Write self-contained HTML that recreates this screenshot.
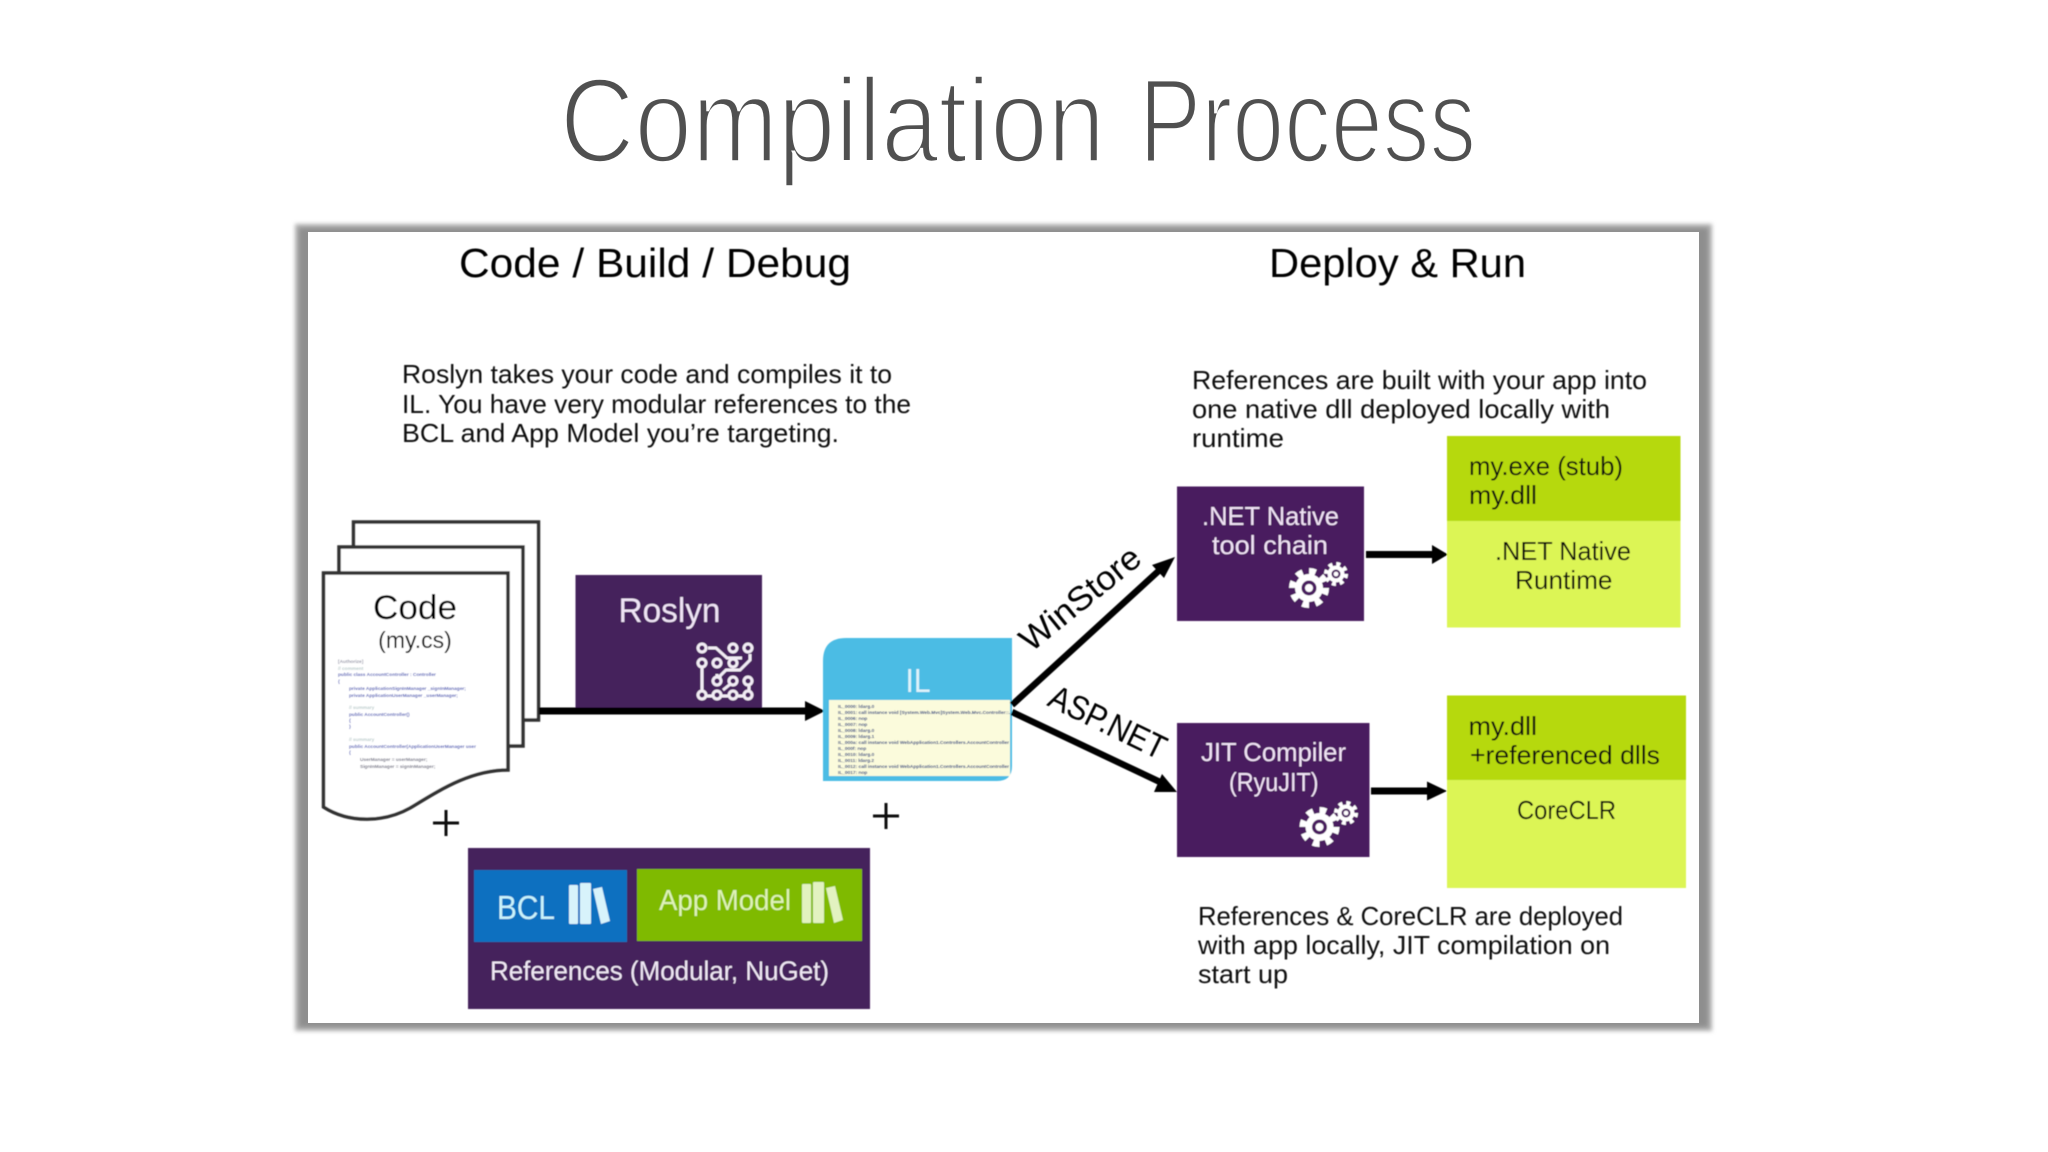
<!DOCTYPE html>
<html><head><meta charset="utf-8"><style>
html,body{margin:0;padding:0;background:#fff;width:2048px;height:1152px;overflow:hidden}
svg{display:block}
text{font-family:"Liberation Sans",sans-serif}
</style></head><body>
<svg width="2048" height="1152" viewBox="0 0 2048 1152" xmlns="http://www.w3.org/2000/svg">
<defs>
<filter id="b1" x="-5%" y="-5%" width="110%" height="110%"><feGaussianBlur stdDeviation="2"/></filter>
<filter id="b0" x="-2%" y="-2%" width="104%" height="104%"><feGaussianBlur stdDeviation="0.45"/></filter>
<clipPath id="ilc"><rect x="829" y="700" width="181" height="76"/></clipPath>
<g id="gear">
<circle r="14" fill="#fff"/>
<circle r="16.5" fill="none" stroke="#fff" stroke-width="7" stroke-dasharray="6.5 6.46"/>
<circle r="7.5" fill="#4a1a5e"/><circle r="4" fill="#fff"/>
</g>
<g id="books">
<rect x="0" y="2" width="9" height="39" rx="1"/>
<rect x="11" y="0" width="11" height="41" rx="1"/>
<path d="M24,6 L33,4 L41,38 L32,41 Z"/>
</g>
</defs>
<rect width="2048" height="1152" fill="#fff"/>

<g font-size="120" fill="#505050" stroke="#fff" stroke-width="3.6" paint-order="fill stroke">
<text x="560" y="162" textLength="545" lengthAdjust="spacingAndGlyphs">Compilation</text>
<text x="1139" y="162" textLength="337" lengthAdjust="spacingAndGlyphs">Process</text>
</g>

<rect x="295" y="224" width="1417" height="807" fill="#b0b0b0" filter="url(#b1)"/>
<rect x="299" y="228" width="1409" height="799" fill="#8e8e8e" filter="url(#b1)"/>
<rect x="308" y="232" width="1391" height="791" fill="#fff"/>

<g filter="url(#b0)">
<text x="459" y="277" font-size="41" fill="#000" textLength="392" lengthAdjust="spacingAndGlyphs">Code / Build / Debug</text>
<text x="1269" y="277" font-size="41" fill="#000" textLength="257" lengthAdjust="spacingAndGlyphs">Deploy &amp; Run</text>

<g font-size="26" fill="#111">
<text x="402" y="383" textLength="490" lengthAdjust="spacingAndGlyphs">Roslyn takes your code and compiles it to</text>
<text x="402" y="413" textLength="509" lengthAdjust="spacingAndGlyphs">IL. You have very modular references to the</text>
<text x="402" y="442" textLength="437" lengthAdjust="spacingAndGlyphs">BCL and App Model you’re targeting.</text>
<text x="1192" y="389" textLength="455" lengthAdjust="spacingAndGlyphs">References are built with your app into</text>
<text x="1192" y="418" textLength="418" lengthAdjust="spacingAndGlyphs">one native dll deployed locally with</text>
<text x="1192" y="447" textLength="92" lengthAdjust="spacingAndGlyphs">runtime</text>
<text x="1198" y="925" textLength="425" lengthAdjust="spacingAndGlyphs">References &amp; CoreCLR are deployed</text>
<text x="1198" y="954" textLength="412" lengthAdjust="spacingAndGlyphs">with app locally, JIT compilation on</text>
<text x="1198" y="983" textLength="90" lengthAdjust="spacingAndGlyphs">start up</text>
</g>

<!-- pages -->
<rect x="353.5" y="522" width="185" height="198" fill="#fff" stroke="#333" stroke-width="3.5"/>
<rect x="339" y="547" width="184" height="199" fill="#fff" stroke="#333" stroke-width="3.5"/>
<path d="M323.5,807 V573 H508 V770 C470,770 440,790 410,808 C385,822 350,824 323.5,807 Z" fill="#fff" stroke="#333" stroke-width="3.5"/>
<text x="415" y="619" font-size="34" fill="#000" text-anchor="middle" textLength="84" lengthAdjust="spacingAndGlyphs">Code</text>
<text x="415" y="648" font-size="23" fill="#111" text-anchor="middle">(my.cs)</text>
<g font-size="4.8" fill="#5560b8" font-weight="bold">
<text x="338" y="663" fill="#99a">[Authorize]</text>
<text x="338" y="670" fill="#bcc">// comment</text>
<text x="338" y="676">public class AccountController : Controller</text>
<text x="338" y="683">{</text>
<text x="349" y="690">private ApplicationSignInManager _signInManager;</text>
<text x="349" y="697">private ApplicationUserManager _userManager;</text>
<text x="349" y="709" fill="#bcc">// summary</text>
<text x="349" y="716">public AccountController()</text>
<text x="349" y="722">{</text>
<text x="349" y="728">}</text>
<text x="349" y="741" fill="#bcc">// summary</text>
<text x="349" y="748">public AccountController(ApplicationUserManager user</text>
<text x="349" y="754">{</text>
<text x="360" y="761" fill="#778">UserManager = userManager;</text>
<text x="360" y="768" fill="#778">SignInManager = signInManager;</text>
</g>

<!-- Roslyn -->
<rect x="575.5" y="575" width="186.5" height="137" fill="#44235c"/>
<text x="669.5" y="622" font-size="34" fill="#efe4f5" text-anchor="middle" textLength="102" lengthAdjust="spacingAndGlyphs">Roslyn</text>
<g transform="translate(690,630)" fill="none" stroke="#f2ecf5" stroke-width="3">
<path d="M18,18 H26 L37,28 H52 M60,24 V30 L50,40 H36 L30,46 V54"/>
<path d="M12,38 V66 M44,22 V20"/>
<path d="M27,44 V56 M43,38 V36"/>
<path d="M17,66 H54"/>
<path d="M43,52 L33,60"/>
<path d="M59,56 V60"/>
<g fill="#44235c">
<circle cx="12" cy="18" r="4"/><circle cx="43" cy="18" r="4"/><circle cx="58" cy="18" r="4"/>
<circle cx="12" cy="33" r="4"/><circle cx="27" cy="33" r="4"/><circle cx="43" cy="33" r="4"/>
<circle cx="27" cy="51" r="4"/><circle cx="43" cy="51" r="4"/><circle cx="58" cy="51" r="4"/>
<circle cx="12" cy="65" r="4"/><circle cx="27" cy="65" r="4"/><circle cx="43" cy="65" r="4"/><circle cx="58" cy="65" r="4"/>
</g>
</g>

<!-- main arrow -->
<rect x="539" y="707.5" width="270" height="7" fill="#000"/>
<path d="M805,701 L825,711 L805,721 Z" fill="#000"/>

<!-- IL -->
<path d="M846,638 H1012 V766 Q1012,781 997,781 H823 V661 Q823,638 846,638 Z" fill="#4cbce4"/>
<rect x="829" y="700" width="181" height="76" fill="#fbfbdc"/>
<text x="918" y="692" font-size="33" fill="#dff3fb" text-anchor="middle" textLength="25" lengthAdjust="spacingAndGlyphs">IL</text>
<g clip-path="url(#ilc)" font-size="4.8" fill="#2f4480" font-weight="bold">
<text x="838" y="708">IL_0000: ldarg.0</text>
<text x="838" y="714">IL_0001: call instance void [System.Web.Mvc]System.Web.Mvc.Controller::.ctor()</text>
<text x="838" y="720">IL_0006: nop</text>
<text x="838" y="726">IL_0007: nop</text>
<text x="838" y="732">IL_0008: ldarg.0</text>
<text x="838" y="738">IL_0009: ldarg.1</text>
<text x="838" y="744">IL_000a: call instance void WebApplication1.Controllers.AccountController</text>
<text x="838" y="750">IL_000f: nop</text>
<text x="838" y="756">IL_0010: ldarg.0</text>
<text x="838" y="762">IL_0011: ldarg.2</text>
<text x="838" y="768">IL_0012: call instance void WebApplication1.Controllers.AccountController</text>
<text x="838" y="774">IL_0017: nop</text>
</g>

<!-- plus -->
<path d="M433,823 H459 M446,810 V836 M873,816 H899 M886,803 V829" stroke="#111" stroke-width="3" fill="none"/>

<!-- references -->
<rect x="468" y="848" width="402" height="161" fill="#44235c"/>
<rect x="474" y="870" width="153" height="72" fill="#0a6fc0"/>
<rect x="637" y="869" width="225" height="72" fill="#7fba00"/>
<text x="497" y="919" font-size="33" fill="#c9f3fb" textLength="58" lengthAdjust="spacingAndGlyphs">BCL</text>
<use href="#books" x="569" y="883" fill="#d8f3fb"/>
<text x="659" y="910" font-size="29" fill="#dff2b8" textLength="132" lengthAdjust="spacingAndGlyphs">App Model</text>
<use href="#books" x="802" y="882" fill="#e2f2c0"/>
<text x="490" y="980" font-size="27" fill="#f0e8f5" textLength="339" lengthAdjust="spacingAndGlyphs">References (Modular, NuGet)</text>

<!-- branch arrows -->
<path d="M1012,705 L1164,566" stroke="#000" stroke-width="6.5" fill="none"/>
<path d="M1175,557 L1164,578 L1152,565 Z" fill="#000"/>
<path d="M1012,712 L1160,782" stroke="#000" stroke-width="6.5" fill="none"/>
<path d="M1177,792 L1154,792 L1162,774 Z" fill="#000"/>
<text transform="translate(1031,653) rotate(-39)" font-size="34" fill="#000" textLength="145" lengthAdjust="spacingAndGlyphs">WinStore</text>
<text transform="translate(1046,705) rotate(26)" font-size="34" fill="#000" textLength="126" lengthAdjust="spacingAndGlyphs">ASP.NET</text>

<!-- .NET Native -->
<rect x="1177" y="486.5" width="187" height="134.5" fill="#4a1a5e"/>
<text x="1202" y="525" font-size="26" fill="#f0e3f5" textLength="137" lengthAdjust="spacingAndGlyphs">.NET Native</text>
<text x="1212" y="554" font-size="26" fill="#f0e3f5" textLength="116" lengthAdjust="spacingAndGlyphs">tool chain</text>
<use href="#gear" transform="translate(1309,588)"/>
<use href="#gear" transform="translate(1336,574) scale(.6)"/>
<rect x="1366" y="551" width="68" height="7" fill="#000"/>
<path d="M1432,545 L1448,554.5 L1432,564 Z" fill="#000"/>

<rect x="1447" y="436" width="233.5" height="85" fill="#b6d90a"/>
<rect x="1447" y="521" width="233.5" height="106.5" fill="#dcf554"/>
<text x="1469" y="475" font-size="26" fill="#111" textLength="154" lengthAdjust="spacingAndGlyphs">my.exe (stub)</text>
<text x="1469" y="504" font-size="26" fill="#111" textLength="68" lengthAdjust="spacingAndGlyphs">my.dll</text>
<text x="1495" y="560" font-size="26" fill="#111" textLength="136" lengthAdjust="spacingAndGlyphs">.NET Native</text>
<text x="1515" y="589" font-size="26" fill="#111" textLength="97.5" lengthAdjust="spacingAndGlyphs">Runtime</text>

<!-- JIT -->
<rect x="1177" y="723" width="192.5" height="134" fill="#4a1a5e"/>
<text x="1201" y="761" font-size="26" fill="#f0e3f5" textLength="145" lengthAdjust="spacingAndGlyphs">JIT Compiler</text>
<text x="1229" y="791" font-size="26" fill="#f0e3f5" textLength="89.5" lengthAdjust="spacingAndGlyphs">(RyuJIT)</text>
<use href="#gear" transform="translate(1319.5,827)"/>
<use href="#gear" transform="translate(1346,813) scale(.6)"/>
<rect x="1371" y="787.5" width="60" height="7" fill="#000"/>
<path d="M1427,781.5 L1447,791 L1427,800.5 Z" fill="#000"/>

<rect x="1447" y="695.5" width="239" height="84.5" fill="#b6d90a"/>
<rect x="1447" y="780" width="239" height="108" fill="#dcf554"/>
<text x="1468.5" y="735" font-size="26" fill="#111" textLength="68.5" lengthAdjust="spacingAndGlyphs">my.dll</text>
<text x="1470" y="764" font-size="26" fill="#111" textLength="190" lengthAdjust="spacingAndGlyphs">+referenced dlls</text>
<text x="1517" y="819" font-size="26" fill="#111" textLength="99" lengthAdjust="spacingAndGlyphs">CoreCLR</text>
</g>
</svg>
</body></html>
